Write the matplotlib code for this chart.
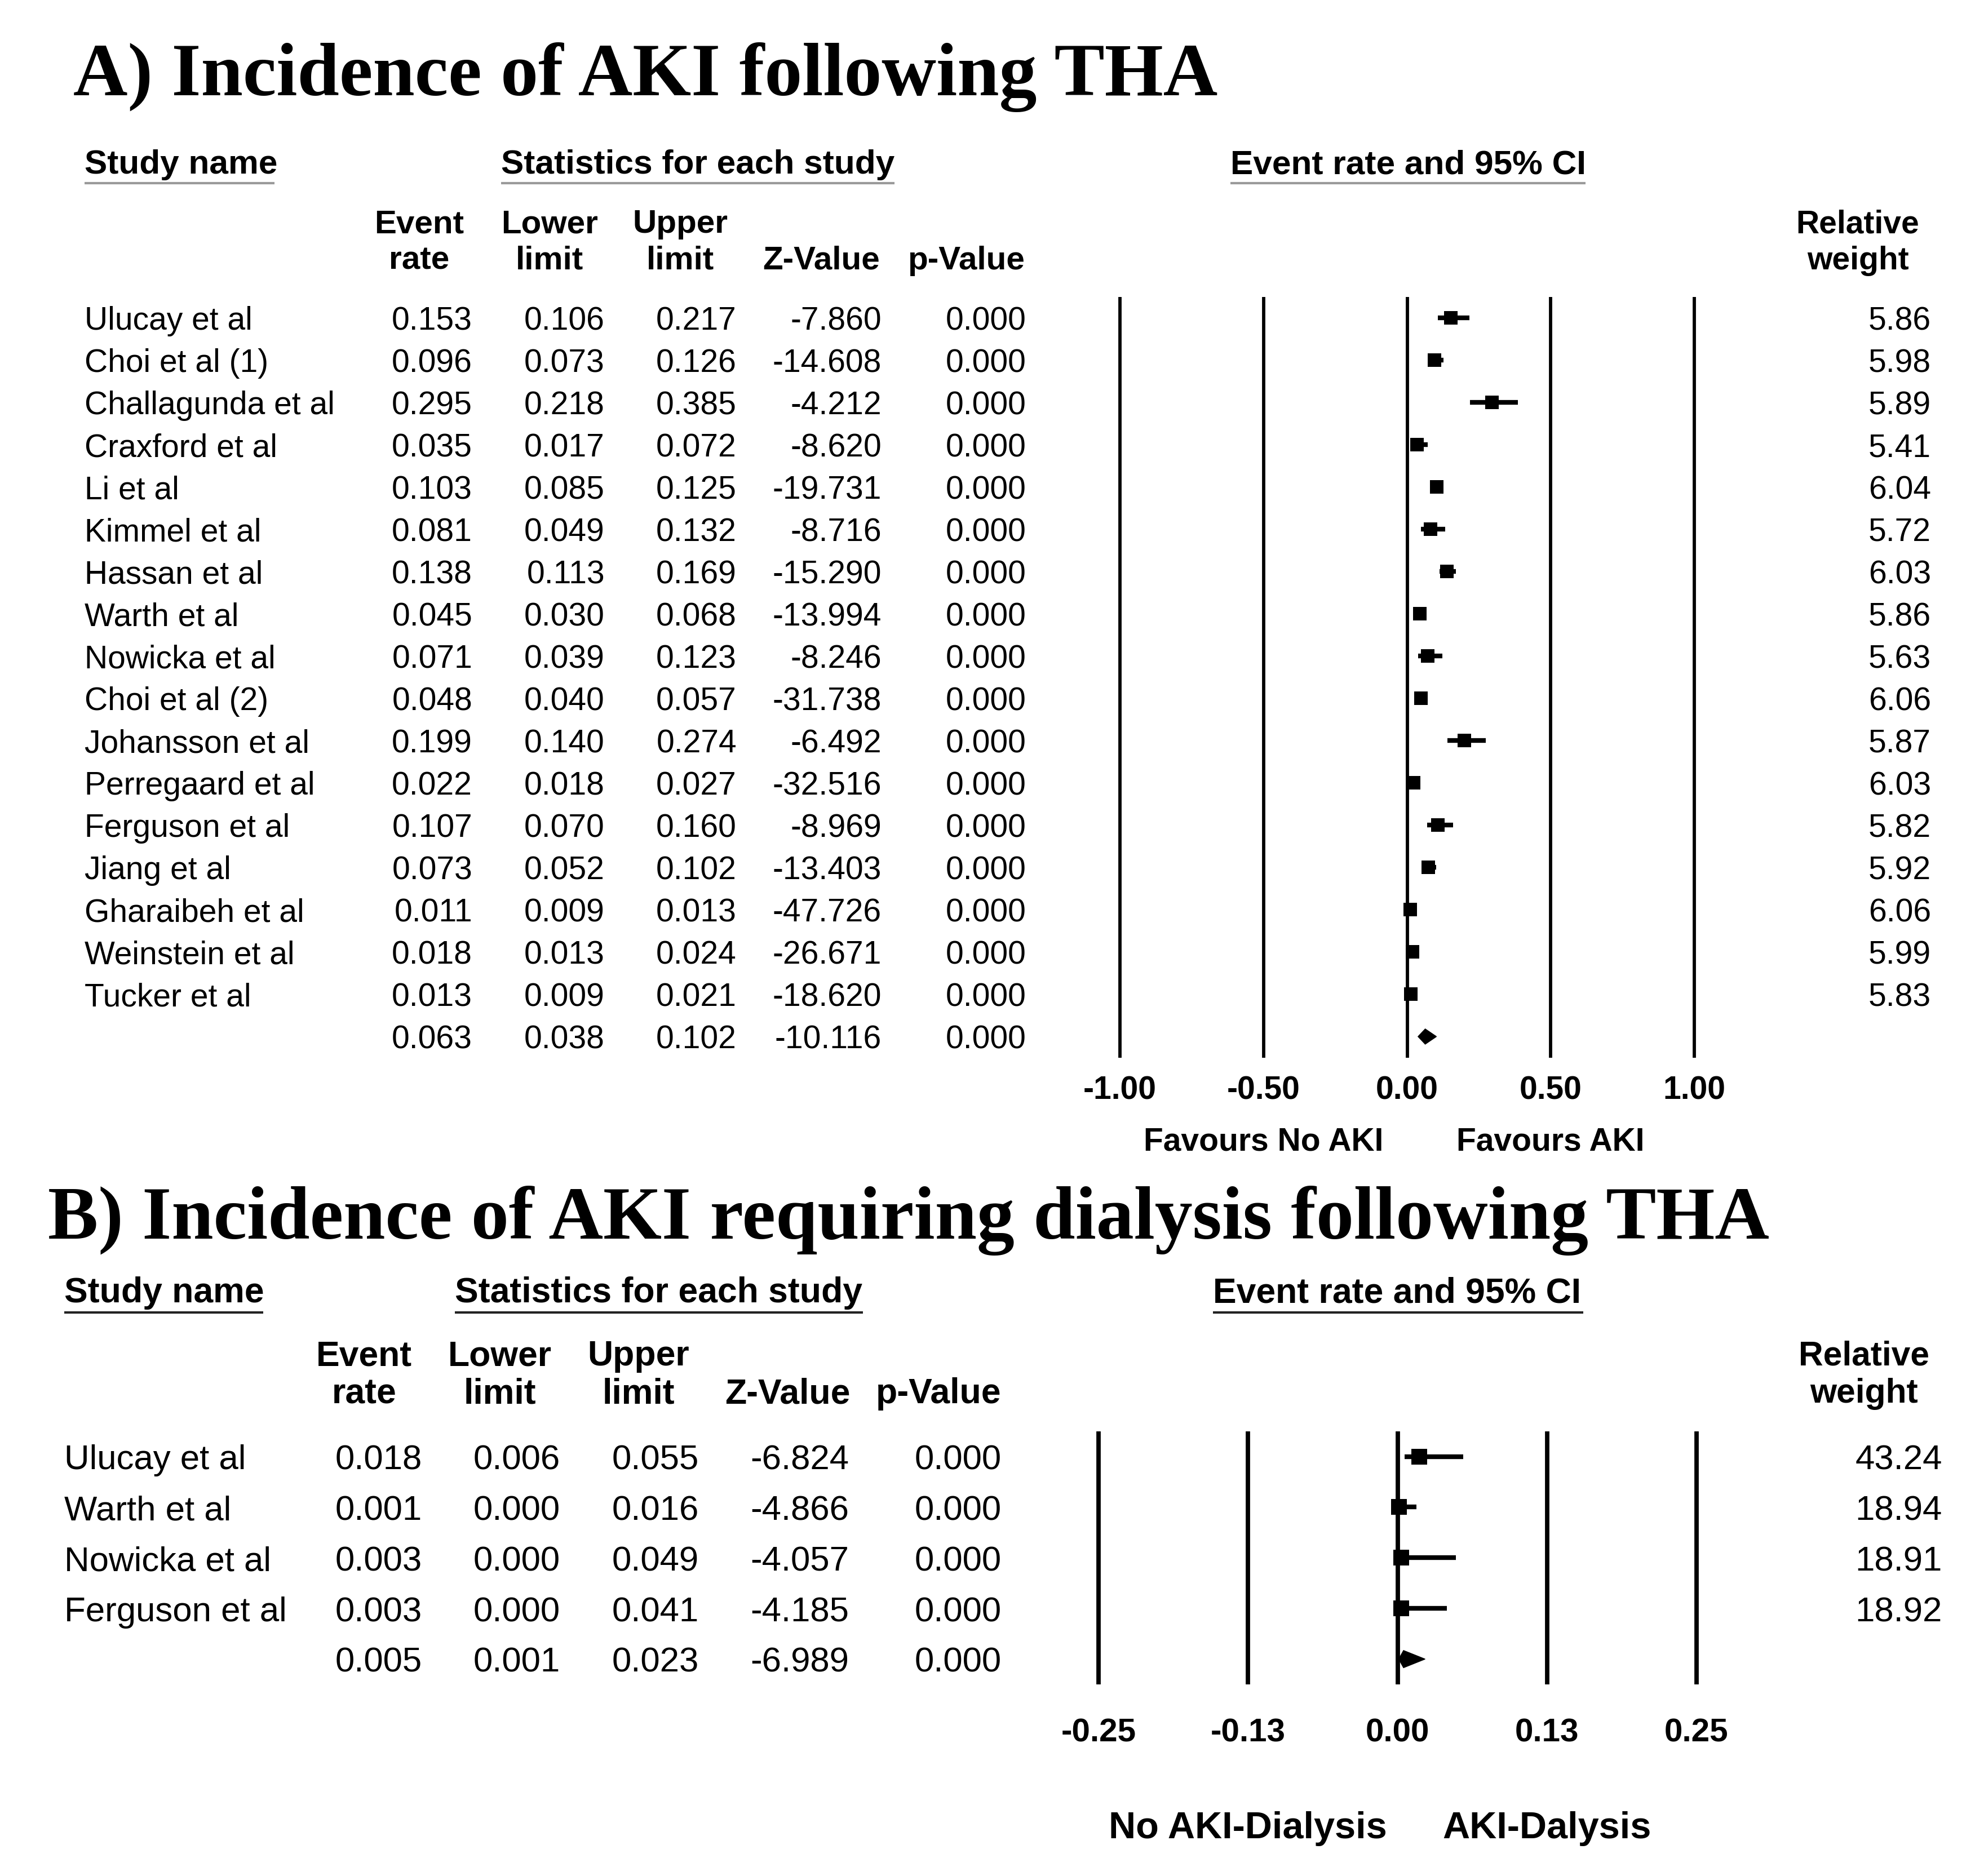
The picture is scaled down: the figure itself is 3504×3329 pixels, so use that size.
import numpy as np
import matplotlib.pyplot as plt
from matplotlib.patches import Polygon

W, H = 3504, 3330
DPI = 100
SANS = "Liberation Sans"
SERIF = "Liberation Serif"

# ---- panel A data ----
studies_a = ["Ulucay et al", "Choi et al (1)", "Challagunda et al", "Craxford et al",
             "Li et al", "Kimmel et al", "Hassan et al", "Warth et al", "Nowicka et al",
             "Choi et al (2)", "Johansson et al", "Perregaard et al", "Ferguson et al",
             "Jiang et al", "Gharaibeh et al", "Weinstein et al", "Tucker et al"]
rate_a = [0.153, 0.096, 0.295, 0.035, 0.103, 0.081, 0.138, 0.045, 0.071,
          0.048, 0.199, 0.022, 0.107, 0.073, 0.011, 0.018, 0.013]
lower_a = [0.106, 0.073, 0.218, 0.017, 0.085, 0.049, 0.113, 0.030, 0.039,
           0.040, 0.140, 0.018, 0.070, 0.052, 0.009, 0.013, 0.009]
upper_a = [0.217, 0.126, 0.385, 0.072, 0.125, 0.132, 0.169, 0.068, 0.123,
           0.057, 0.274, 0.027, 0.160, 0.102, 0.013, 0.024, 0.021]
z_a = [-7.860, -14.608, -4.212, -8.620, -19.731, -8.716, -15.290, -13.994, -8.246,
       -31.738, -6.492, -32.516, -8.969, -13.403, -47.726, -26.671, -18.620]
p_a = [0.000] * 17
weight_a = [5.86, 5.98, 5.89, 5.41, 6.04, 5.72, 6.03, 5.86, 5.63,
            6.06, 5.87, 6.03, 5.82, 5.92, 6.06, 5.99, 5.83]
pooled_a = [0.063, 0.038, 0.102, -10.116, 0.000]
ticks_a = [-1.0, -0.5, 0.0, 0.5, 1.0]
ticklabels_a = ["-1.00", "-0.50", "0.00", "0.50", "1.00"]
favours_a = ["Favours No AKI", "Favours AKI"]

# ---- panel B data ----
studies_b = ["Ulucay et al", "Warth et al", "Nowicka et al", "Ferguson et al"]
rate_b = [0.018, 0.001, 0.003, 0.003]
lower_b = [0.006, 0.000, 0.000, 0.000]
upper_b = [0.055, 0.016, 0.049, 0.041]
z_b = [-6.824, -4.866, -4.057, -4.185]
p_b = [0.000] * 4
weight_b = [43.24, 18.94, 18.91, 18.92]
pooled_b = [0.005, 0.001, 0.023, -6.989, 0.000]
ticks_b = [-0.25, -0.125, 0.0, 0.125, 0.25]
ticklabels_b = ["-0.25", "-0.13", "0.00", "0.13", "0.25"]
favours_b = ["No AKI-Dialysis", "AKI-Dalysis"]

group_heads = ["Study name", "Statistics for each study", "Event rate and 95% CI"]
col_heads = [("Event", "rate"), ("Lower", "limit"), ("Upper", "limit"),
             ("", "Z-Value"), ("", "p-Value")]


def draw_panel(fig, bg, title, studies, rate, lower, upper, z, p, weight, pooled,
               ticks, ticklabels, favours, L):
    fs = L["fs"]
    bg.text(L["title_x"], L["title_y"], title, family=SERIF, weight="bold",
            fontsize=96.3, va="baseline", ha="left")
    # group headers with underline
    for (x0, x1), col in zip(L["groups"], group_heads):
        bg.text(x0, L["hdr_y"], col, family=SANS, weight="bold", fontsize=L["fs_grp"],
                va="center", ha="left")
        bg.plot([x0, x1], [L["ul_y"], L["ul_y"]], color=L["ul_color"], lw=3,
                solid_capstyle="butt")
    # column headers
    for (h1, h2), cx in zip(col_heads, L["col_center"]):
        bg.text(cx, L["col_y"][0], h1, family=SANS, weight="bold", fontsize=L["fs_col"],
                va="center", ha="center")
        bg.text(cx, L["col_y"][1], h2, family=SANS, weight="bold", fontsize=L["fs_col"],
                va="center", ha="center")
    bg.text(L["w_center"], L["col_y"][0], "Relative", family=SANS, weight="bold",
            fontsize=L["fs_w"], va="center", ha="center")
    bg.text(L["w_center"], L["col_y"][1], "weight", family=SANS, weight="bold",
            fontsize=L["fs_w"], va="center", ha="center")

    # table rows
    y0, dy = L["row_y0"], L["row_dy"]
    off = fs * 0.49
    for i, name in enumerate(studies):
        y = y0 + i * dy + off
        bg.text(L["name_x"], y, name, family=SANS, fontsize=fs, va="baseline", ha="left")
        vals = [f"{rate[i]:.3f}", f"{lower[i]:.3f}", f"{upper[i]:.3f}",
                f"{z[i]:.3f}", f"{p[i]:.3f}"]
        for v, rx in zip(vals, L["col_right"]):
            bg.text(rx, y, v, family=SANS, fontsize=fs, va="baseline", ha="right")
        bg.text(L["w_right"], y, f"{weight[i]:.2f}", family=SANS, fontsize=fs,
                va="baseline", ha="right")
    n = len(studies)
    y = y0 + n * dy + off
    for v, rx in zip([f"{v:.3f}" for v in pooled], L["col_right"]):
        bg.text(rx, y, v, family=SANS, fontsize=fs, va="baseline", ha="right")

    # forest plot axes: place so ticks[0]/ticks[-1] land on given pixels
    fx0, fx1 = L["forest_px"]
    t0, t1 = ticks[0], ticks[-1]
    ppu = (fx1 - fx0) / (t1 - t0)
    margin = 0.1 * (t1 - t0)
    xlo, xhi = t0 - margin, t1 + margin
    ax_x0 = fx0 - margin * ppu
    ax_w = (xhi - xlo) * ppu
    top = y0 - 0.5 * dy
    bot = y0 + (n + 0.5) * dy
    ax = fig.add_axes([ax_x0 / W, 1 - bot / H, ax_w / W, (bot - top) / H])
    ax.set_xlim(xlo, xhi)
    ax.set_ylim(n + 0.5, -0.5)
    for s in ax.spines.values():
        s.set_visible(False)
    ax.set_yticks([])
    ax.set_xticks(ticks)
    ax.set_xticklabels(ticklabels, family=SANS, weight="bold", fontsize=L["fs_tick"])
    ax.tick_params(axis="x", length=0, pad=L["tick_pad"])
    for t in ticks:
        ax.axvline(t, color="black", lw=L["vlw"], zorder=1)

    rows = np.arange(n)
    ax.hlines(rows, lower, upper, color="black", lw=6, zorder=2)
    ax.scatter(rate, rows, s=L["msize"] ** 2, marker="s", color="black",
               linewidths=0, zorder=3)
    hh = L["dh"]
    dia = Polygon([(pooled[1], n), (pooled[0], n - hh), (pooled[2], n), (pooled[0], n + hh)],
                  closed=True, color="black", zorder=3)
    ax.add_patch(dia)
    for txt, xv in zip(favours, [ticks[1], ticks[3]]):
        ax.text(xv, (L["fav_y"] - y0) / dy, txt, family=SANS, weight="bold",
                fontsize=L["fs_fav"], ha="center", va="center", clip_on=False)


fig = plt.figure(figsize=(W / DPI, H / DPI), dpi=DPI)
bg = fig.add_axes([0, 0, 1, 1])
bg.set_xlim(0, W)
bg.set_ylim(H, 0)
bg.axis("off")

layout_a = dict(title_x=130, title_y=169, hdr_y=293, ul_y=326, ul_color="#9a9a9a",
                groups=[(150, 487), (889, 1587), (2183, 2813)],
                col_y=(398, 463), col_center=[744, 975, 1207, 1457, 1714],
                w_center=3296, col_right=[838, 1073, 1307, 1564, 1821], w_right=3426,
                name_x=150, row_y0=565.4, row_dy=75.0, forest_px=(1987, 3006),
                tick_pad=22, vlw=4.2, msize=17.5, dh=0.18, fav_y=2027,
                fs=41, fs_grp=43.5, fs_col=42, fs_w=41, fs_tick=41, fs_fav=41)
layout_b = dict(title_x=85, title_y=2198, hdr_y=2295, ul_y=2330, ul_color="#222222",
                groups=[(114, 467), (807, 1531), (2152, 2809)],
                col_y=(2407, 2474), col_center=[646, 887, 1133, 1397, 1665],
                w_center=3307, col_right=[749, 994, 1240, 1506, 1777], w_right=3446,
                name_x=114, row_y0=2585.5, row_dy=89.9, forest_px=(1949, 3010),
                tick_pad=42, vlw=5.6, msize=20, dh=0.17, fav_y=3245,
                fs=44.5, fs_grp=45, fs_col=45, fs_w=43.6, fs_tick=42, fs_fav=48)

draw_panel(fig, bg, "A) Incidence of AKI following THA", studies_a, rate_a, lower_a,
           upper_a, z_a, p_a, weight_a, pooled_a, ticks_a, ticklabels_a, favours_a, layout_a)
draw_panel(fig, bg, "B) Incidence of AKI requiring dialysis following THA", studies_b,
           rate_b, lower_b, upper_b, z_b, p_b, weight_b, pooled_b, ticks_b, ticklabels_b,
           favours_b, layout_b)

fig.savefig("out.png", dpi=DPI, facecolor="white")
